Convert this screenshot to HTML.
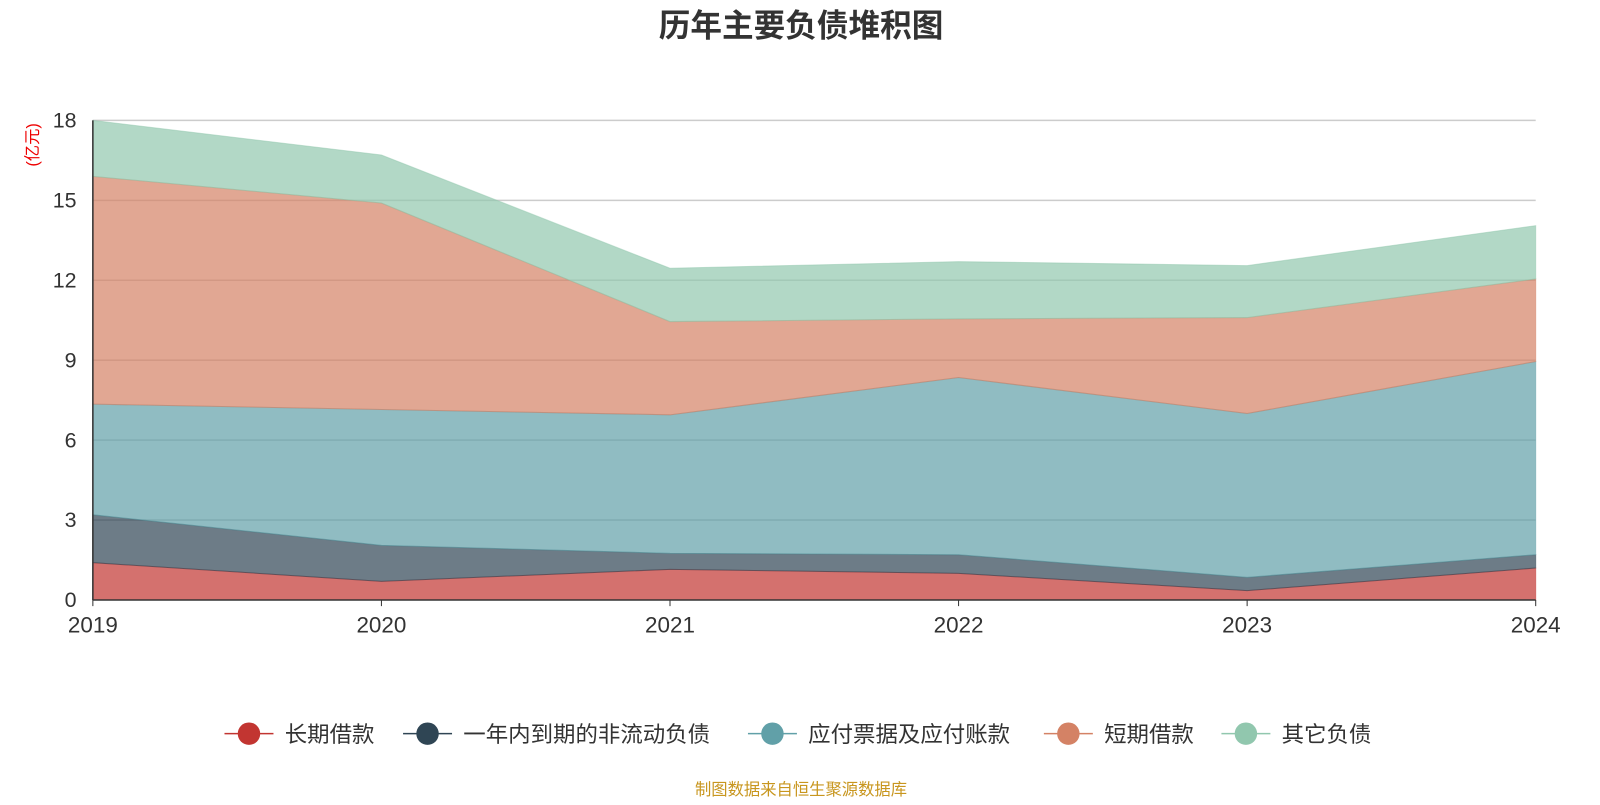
<!DOCTYPE html>
<html><head><meta charset="utf-8"><style>
body{margin:0;width:1600px;height:800px;background:#fff;overflow:hidden;font-family:"Liberation Sans","Noto Sans CJK SC",sans-serif}
</style></head><body>
<svg id="chart" width="1600" height="800" font-family="Liberation Sans, Noto Sans CJK SC, sans-serif">
<g transform="scale(1.0204)">
<text x="785" y="36" text-anchor="middle" font-size="31" font-weight="bold" fill="#333">历年主要负债堆积图</text>
<text transform="translate(37,142) rotate(-90)" text-anchor="middle" font-size="16" fill="#e00">(亿元)</text>
<g id="grid"></g><g id="areas"></g><g id="axes"></g><g id="legend"></g>
<text x="785" y="779" text-anchor="middle" font-size="16" fill="#c8961e">制图数据来自恒生聚源数据库</text>
</g>
</svg>
<script>
const years=["2019","2020","2021","2022","2023","2024"];
const longLoan=[1.4,0.7,1.15,1.0,0.35,1.2];
const currentNonCurrent=[1.8,1.35,0.6,0.7,0.5,0.5];
const payables=[4.15,5.1,5.2,6.65,6.15,7.25];
const shortLoan=[8.55,7.75,3.5,2.2,3.6,3.1];
const otherDebt=[2.1,1.8,2.0,2.15,1.95,2.0];
const yTicks=[0,3,6,9,12,15,18];
const seriesNames=["长期借款","一年内到期的非流动负债","应付票据及应付账款","短期借款","其它负债"];
const colors=["#c23531","#2f4554","#61a0a8","#d48265","#91c7ae"];
const NS="http://www.w3.org/2000/svg";
const x0=91,x1=1505,y0=588,y1=118,ymax=18;
const xs=i=>x0+(x1-x0)*i/(years.length-1);
const ys=v=>y0-(y0-y1)*v/ymax;
function mk(t,a,p){const e=document.createElementNS(NS,t);for(const k in a)e.setAttribute(k,a[k]);p.appendChild(e);return e;}
const grid=document.getElementById('grid'),axes=document.getElementById('axes'),areas=document.getElementById('areas'),legend=document.getElementById('legend');
yTicks.forEach(t=>{
 if(t>0){const l=mk('line',{x1:x0,x2:x1,y1:ys(t),y2:ys(t),stroke:'#ccc','stroke-width':1.5},grid);
 
 }
 const tx=mk('text',{x:x0-16,y:ys(t)+7,'text-anchor':'end','font-size':21,fill:'#333'},axes);tx.textContent=t;
 
 
});
const data=[longLoan,currentNonCurrent,payables,shortLoan,otherDebt];
let base=years.map(()=>0);
data.forEach((s,k)=>{
 const top=base.map((b,i)=>b+s[i]);
 let d='M'+years.map((_,i)=>xs(i)+','+ys(top[i])).join('L');
 for(let i=years.length-1;i>=0;i--)d+='L'+xs(i)+','+ys(base[i]);
 const p=mk('path',{d:d+'Z',fill:colors[k],'fill-opacity':0.7,stroke:colors[k],'stroke-opacity':0.5,'stroke-width':1},areas);
 
 
 base=top;
});
const ax=mk('line',{x1:x0,x2:x1,y1:y0,y2:y0,stroke:'#333','stroke-width':1.5},axes);


const ay=mk('line',{x1:x0,x2:x0,y1:y1,y2:y0,stroke:'#333','stroke-width':1.5},axes);


years.forEach((y,i)=>{
 const tk=mk('line',{x1:xs(i),x2:xs(i),y1:y0,y2:y0+6,stroke:'#333'},axes);
 
 
 const t=mk('text',{x:xs(i),y:y0+32,'text-anchor':'middle','font-size':22,fill:'#333'},axes);t.textContent=y;
 
 
});
const lx=[220,395,733,1023,1197];
seriesNames.forEach((n,k)=>{
 const g=mk('g',{},legend);
 
 
 mk('line',{x1:lx[k],x2:lx[k]+48,y1:719,y2:719,stroke:colors[k],'stroke-width':1.5},g);
 mk('circle',{cx:lx[k]+24,cy:719,r:11,fill:colors[k]},g);
 const t=mk('text',{x:lx[k]+59,y:727,'font-size':22,fill:'#333'},g);t.textContent=n;
});
</script>
</body></html>
